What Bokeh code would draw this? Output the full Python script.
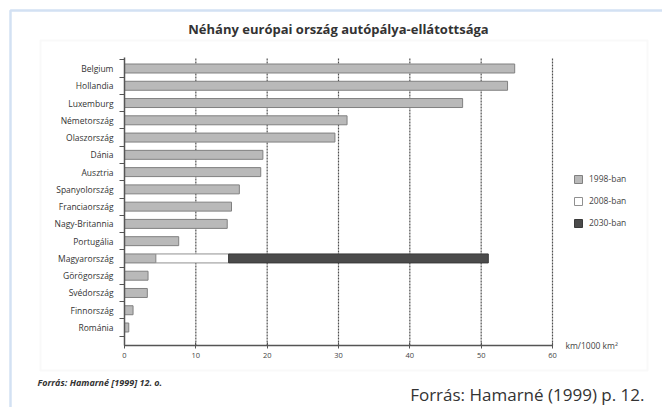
from bokeh.plotting import figure
from bokeh.models import (ColumnDataSource, Range1d, FixedTicker, Label, PolyAnnotation,
                          Legend, LegendItem, LinearAxis)
from bokeh.embed import file_html
from bokeh.resources import INLINE

# ---- data ----
countries = ["Belgium", "Hollandia", "Luxemburg", "Németország", "Olaszország", "Dánia",
             "Ausztria", "Spanyolország", "Franciaország", "Nagy-Britannia", "Portugália",
             "Magyarország", "Görögország", "Svédország", "Finnország", "Románia"]
v1998 = [54.7, 53.7, 47.4, 31.2, 29.5, 19.4, 19.1, 16.1, 15.0, 14.4, 7.6, 4.4, 3.3, 3.2, 1.2, 0.6]
hu_country = "Magyarország"
hu_2008 = 14.6
hu_2030 = 51.0
x_ticks = [0, 10, 20, 30, 40, 50, 60]
series_labels = ["1998-ban", "2008-ban", "2030-ban"]
title_text = "Néhány európai ország autópálya-ellátottsága"
unit_text = "km/1000 km²"
src_small = "Forrás: Hamarné [1999] 12. o."
src_big = "Forrás: Hamarné (1999) p. 12."

n = len(countries)
ypos = [n - 1 - i for i in range(n)]
hu_y = ypos[countries.index(hu_country)]
hu_1998 = v1998[countries.index(hu_country)]

FONT = "Open Sans"
W, H = 662, 407

# pixel anchors of the chart area (layout)
X0_PX, X60_PX = 124, 552          # x=0 and x=60
YTOP_ROW_PX, YBOT_ROW_PX = 68, 327  # centre of first and last row
AXIS_Y_PX, AXIS_TOP_PX = 345, 57

kx = (X60_PX - X0_PX) / 60.0
ky = (YBOT_ROW_PX - YTOP_ROW_PX) / (n - 1)
x_start = -X0_PX / kx
x_end = (W - X0_PX) / kx
y_end = (n - 1) + YTOP_ROW_PX / ky
y_start = -(H - YBOT_ROW_PX) / ky
y_axis_pos = -(AXIS_Y_PX - YBOT_ROW_PX) / ky
y_axis_top = (n - 1) + (YTOP_ROW_PX - AXIS_TOP_PX) / ky

p = figure(width=W, height=H, output_backend="svg", toolbar_location=None,
           x_range=Range1d(x_start, x_end), y_range=Range1d(y_start, y_end),
           min_border=0, min_border_left=0, min_border_right=0, min_border_top=0, min_border_bottom=0,
           x_axis_type=None, y_axis_type=None,
           background_fill_color="white", border_fill_color="white", outline_line_color=None)
p.grid.visible = False

def sx(X):
    return X

def sy(Y):
    return H - Y

# frames
p.add_layout(PolyAnnotation(xs=[sx(10), sx(720), sx(720), sx(10)], ys=[sy(10), sy(10), sy(460), sy(460)],
                            xs_units="screen", ys_units="screen", fill_alpha=0,
                            line_color="#6e9ad6", line_width=2.5))
p.add_layout(PolyAnnotation(xs=[sx(40), sx(647), sx(647), sx(40)], ys=[sy(40), sy(40), sy(370), sy(370)],
                            xs_units="screen", ys_units="screen", fill_alpha=0,
                            line_color="#ebebeb", line_width=2))

# dashed vertical grid lines
gx = x_ticks[1:]
p.segment(x0=gx, x1=gx, y0=[y_axis_pos] * len(gx), y1=[y_axis_top] * len(gx),
          line_color="#505050", line_dash="2 1", line_width=1.2)

# bars
src1 = ColumnDataSource(dict(y=ypos, left=[0] * n, right=v1998))
r1 = p.hbar(y="y", left="left", right="right", height=0.52, source=src1,
            fill_color="#b9b9b9", line_color="#808080", line_width=1)
src2 = ColumnDataSource(dict(y=[hu_y], left=[hu_1998], right=[hu_2008]))
r2 = p.hbar(y="y", left="left", right="right", height=0.52, source=src2,
            fill_color="white", line_color="#909090", line_width=1)
src3 = ColumnDataSource(dict(y=[hu_y], left=[hu_2008], right=[hu_2030]))
r3 = p.hbar(y="y", left="left", right="right", height=0.52, source=src3,
            fill_color="#4b4b4b", line_color="#3a3a3a", line_width=1)

# axes (fixed inside the frame)
xa = LinearAxis(fixed_location=y_axis_pos, bounds=(0, 60))
xa.ticker = FixedTicker(ticks=x_ticks, minor_ticks=[])
xa.axis_line_color = "#555555"
xa.axis_line_width = 1.5
xa.major_tick_line_color = "#555555"
xa.major_tick_in = 3
xa.major_tick_out = 3
xa.major_label_text_font = FONT
xa.major_label_text_font_size = "7.5px"
xa.major_label_text_color = "#444444"
xa.major_label_standoff = 4
p.add_layout(xa, "below")

ya = LinearAxis(fixed_location=0, bounds=(y_axis_pos, y_axis_top))
ya.ticker = FixedTicker(ticks=ypos, minor_ticks=[y + 0.5 for y in range(-1, n)])
ya.major_label_overrides = {y: c for y, c in zip(ypos, countries)}
ya.axis_line_color = "#555555"
ya.axis_line_width = 1.5
ya.major_tick_line_color = None
ya.minor_tick_line_color = "#555555"
ya.minor_tick_out = 5
ya.minor_tick_in = 0
ya.major_label_text_font = FONT
ya.major_label_text_font_size = "8.5px"
ya.major_label_text_color = "#333333"
ya.major_label_standoff = 5
p.add_layout(ya, "left")

# legend
legend = Legend(items=[LegendItem(label=series_labels[0], renderers=[r1]),
                       LegendItem(label=series_labels[1], renderers=[r2]),
                       LegendItem(label=series_labels[2], renderers=[r3])],
                location=(sx(573), sy(228)), orientation="vertical",
                glyph_width=10, glyph_height=10, label_height=10, spacing=11,
                padding=0, margin=0, label_standoff=6,
                border_line_color=None, background_fill_alpha=0,
                label_text_font=FONT, label_text_font_size="8.5px", label_text_color="#444444")
p.add_layout(legend, "center")

# texts
p.add_layout(Label(x=sx(338), y=sy(28), x_units="screen", y_units="screen", text=title_text,
                   text_align="center", text_baseline="middle", text_font=FONT,
                   text_font_size="13px", text_font_style="bold", text_color="#333333"))
p.add_layout(Label(x=sx(565), y=sy(345), x_units="screen", y_units="screen", text=unit_text,
                   text_align="left", text_baseline="middle", text_font=FONT,
                   text_font_size="8.5px", text_color="#444444"))
p.add_layout(Label(x=sx(37), y=sy(382), x_units="screen", y_units="screen", text=src_small,
                   text_align="left", text_baseline="middle", text_font=FONT,
                   text_font_size="9px", text_font_style="bold italic", text_color="#333333"))
p.add_layout(Label(x=sx(644), y=sy(394), x_units="screen", y_units="screen", text=src_big,
                   text_align="right", text_baseline="middle", text_font=FONT,
                   text_font_size="17px", text_color="#333333"))

open("out.html", "w").write(file_html(p, INLINE))
